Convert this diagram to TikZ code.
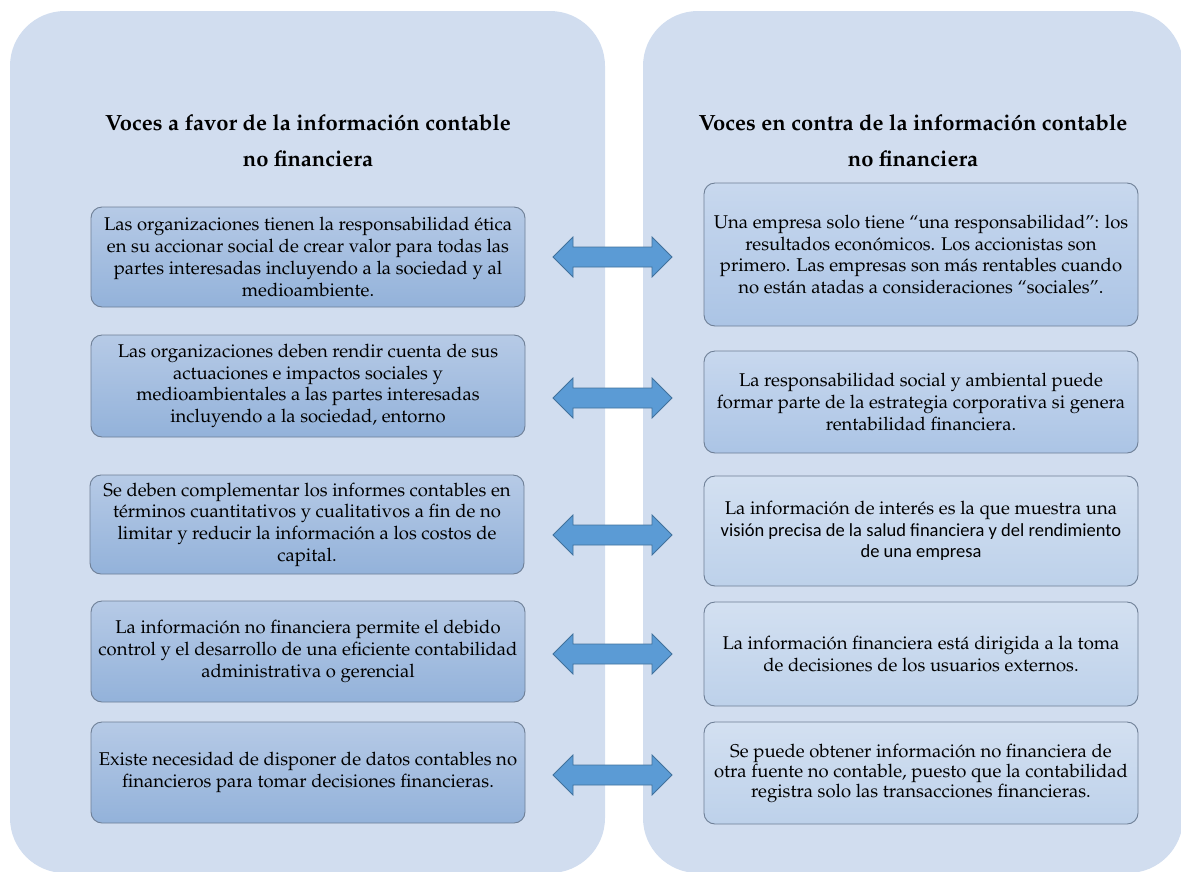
\documentclass[tikz,border=0pt]{standalone}
\usepackage[T1]{fontenc}
\usepackage{fontspec}
\newfontfamily\carlito{Carlito}
\newcommand\palfont{\fontencoding{T1}\fontfamily{ppl}\selectfont}
\definecolor{panelc}{HTML}{D1DDEF}
\definecolor{bordc}{HTML}{6E7F96}
\definecolor{arrowfill}{HTML}{5B9BD5}
\definecolor{arrowline}{HTML}{41719C}
\definecolor{ltop}{HTML}{B6CAE6}
\definecolor{lbot}{HTML}{93B2DA}
\definecolor{rtop}{HTML}{C8D8EE}
\definecolor{rbot}{HTML}{ABC4E5}
\definecolor{rtopl}{HTML}{D3E0F1}
\definecolor{rbotl}{HTML}{BDD1EA}
\begin{document}
\begin{tikzpicture}[x=1pt,y=-1pt,
  panel/.style={fill=panelc, rounded corners=55pt},
  boxbase/.style={draw=bordc, line width=0.9pt, rounded corners=11pt, align=center,
    inner sep=0pt, minimum width=434pt,
    font={\palfont\fontsize{18.5}{21.7}\selectfont}},
  lbox/.style={boxbase, top color=ltop, bottom color=lbot},
  rbox/.style={boxbase, top color=rtop, bottom color=rbot},
  rboxl/.style={boxbase, top color=rtopl, bottom color=rbotl},
  titlesty/.style={align=center, inner sep=0pt,
    font={\palfont\bfseries\fontsize{22}{36}\selectfont}},
  dblarrow/.style={fill=arrowfill, draw=arrowline, line width=0.8pt, line join=miter}]
\useasboundingbox (0,0) rectangle (1181,871);
\fill[panel] (10,11) rectangle (605,873);
\fill[panel] (643,11) rectangle (1183,873);

\node[titlesty] (tl) at (308,141) {Voces a favor de la información contable\\no financiera};
\node[titlesty] (tr) at (913,141) {Voces en contra de la información contable\\no financiera};

\node[lbox, minimum height=100pt] (l1) at (308,257) {Las organizaciones tienen la responsabilidad ética\\en su accionar social de crear valor para todas las\\partes interesadas incluyendo a la sociedad y al\\medioambiente.};
\node[lbox, minimum height=102pt] (l2) at (308,386) {Las organizaciones deben rendir cuenta de sus\\actuaciones e impactos sociales y\\medioambientales a las partes interesadas\\incluyendo a la sociedad, entorno};
\node[lbox, minimum height=99pt] (l3) at (307,524.5) {Se deben complementar los informes contables en\\términos cuantitativos y cualitativos a fin de no\\limitar y reducir la información a los costos de\\capital.};
\node[lbox, minimum height=101pt] (l4) at (308,651.5) {La información no financiera permite el debido\\control y el desarrollo de una eficiente contabilidad\\administrativa o gerencial};
\node[lbox, minimum height=101pt] (l5) at (308,772.5) {Existe necesidad de disponer de datos contables no\\financieros para tomar decisiones financieras.};

\node[rbox, minimum height=143pt] (r1) at (921,254.5) {Una empresa solo tiene ``una responsabilidad'': los\\resultados económicos. Los accionistas son\\primero. Las empresas son más rentables cuando\\no están atadas a consideraciones ``sociales''.};
\node[rbox, minimum height=102pt] (r2) at (921,402) {La responsabilidad social y ambiental puede\\formar parte de la estrategia corporativa si genera\\rentabilidad financiera.};
\node[rboxl, minimum height=110pt] (r3) at (921,531) {La información de interés es la que muestra una\\{\carlito visión precisa de la salud financiera y del rendimiento}\\{\carlito de una empresa}};
\node[rboxl, minimum height=104pt] (r4) at (921,654) {La información financiera está dirigida a la toma\\de decisiones de los usuarios externos.};
\node[rboxl, minimum height=102pt, font={\palfont\fontsize{18.5}{20}\selectfont}] (r5) at (921,773) {Se puede obtener información no financiera de\\otra fuente no contable, puesto que la contabilidad\\registra solo las transacciones financieras.};

\coordinate (a1) at (612.5,257);
\coordinate (a2) at (612.5,398);
\coordinate (a3) at (612.5,535);
\coordinate (a4) at (612.5,654);
\coordinate (a5) at (612.5,775);
\foreach \a in {a1,a2,a3,a4,a5}{
  \draw[dblarrow, shift={(\a)}] (-59.5,0) -- (-39.5,-20) -- (-39.5,-10) -- (39.5,-10) -- (39.5,-20)
    -- (59.5,0) -- (39.5,20) -- (39.5,10) -- (-39.5,10) -- (-39.5,20) -- cycle;
}
\end{tikzpicture}
\end{document}
